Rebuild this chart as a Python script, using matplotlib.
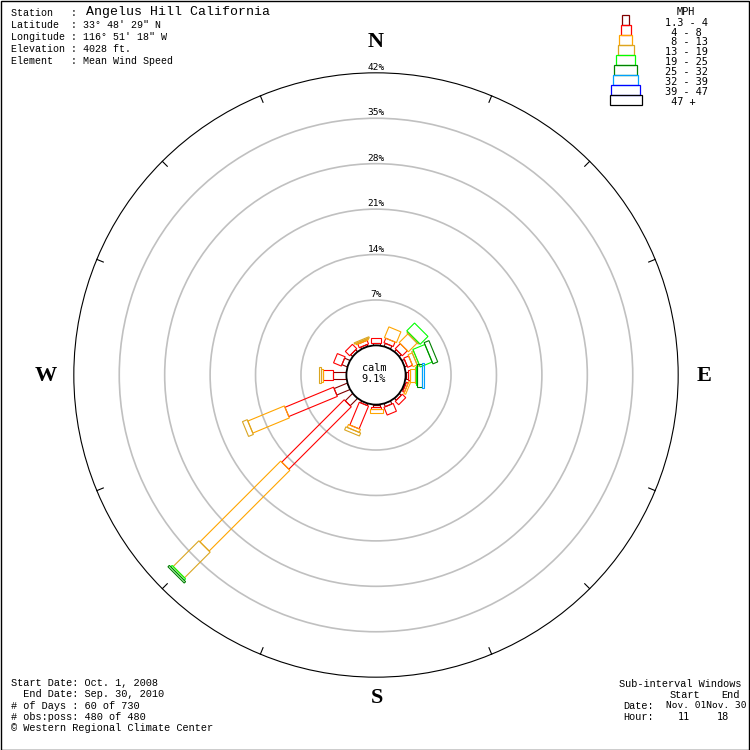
import numpy as np
import matplotlib.pyplot as plt
from matplotlib.patches import Polygon, Rectangle, Circle

plt.rcParams["font.family"] = ["Liberation Mono", "DejaVu Sans Mono"]

# 画布与比例 (像素)
W_PX, H_PX = 750, 750
CX, CY = 376, 375          # 风玫瑰中心
PX_PER_PCT = 6.49          # 每 1% 对应像素
CALM_R = 29.6 / PX_PER_PCT  # 静风圆半径 (以 % 为单位)

# 数据
directions = np.arange(16) * 22.5
ring_pcts = [7, 14, 21, 28, 35, 42]
calm_pct = 9.1

speed_labels = ["1.3 - 4", " 4 - 8", " 8 - 13", "13 - 19", "19 - 25",
                "25 - 32", "32 - 39", "39 - 47", " 47 +"]
speed_colors = ["#800000", "#FF0000", "#FFA500", "#DAA520", "#00FF00",
                "#008000", "#00A0FF", "#0000FF", "#000000"]
box_width_px = [7, 10, 13, 16, 19, 23, 25, 29, 32]

# 各风速段在16个方位上的频率 (%), 方位顺序 N, NNE, NE ... NNW
f_1_4 = [0.35, 0.5, 0.4, 0.4, 0.3, 0.2, 0.4, 0.5, 0.3, 0.3, 1.6, 2.2, 2.1, 0.9, 0.4, 0.3]
f_4_8 = [0.75, 0.75, 1.1, 0.8, 0.38, 0.3, 0.75, 1.3, 0.42, 3.8, 13.6, 8.1, 1.55, 1.3, 0.95, 0.6]
f_8_13 = [0, 1.8, 1.9, 0.7, 0.77, 0.3, 0, 0, 0.62, 0.5, 17.6, 6.1, 0.2, 0, 0, 0.2]
f_13_19 = [0, 0, 0.2, 0.3, 0.15, 0, 0, 0, 0, 0.5, 5.6, 0.8, 0.35, 0, 0, 0.2]
f_19_25 = [0, 0, 1.7, 2.0, 0.16, 0, 0, 0, 0, 0, 0.3, 0, 0, 0, 0, 0]
f_25_32 = [0, 0, 0, 0.8, 0.77, 0, 0, 0, 0, 0, 0.3, 0, 0, 0, 0, 0]
f_32_39 = [0, 0, 0, 0, 0.32, 0, 0, 0, 0, 0, 0, 0, 0, 0, 0, 0]
f_39_47 = [0] * 16
f_47_up = [0] * 16
freqs = [f_1_4, f_4_8, f_8_13, f_13_19, f_19_25, f_25_32, f_32_39, f_39_47, f_47_up]

header_lines = ["Station   :",
                "Latitude  : 33\u00b0 48' 29\" N",
                "Longitude : 116\u00b0 51' 18\" W",
                "Elevation : 4028 ft.",
                "Element   : Mean Wind Speed"]
station_name = "Angelus Hill California"
footer_lines = ["Start Date: Oct. 1, 2008",
                "  End Date: Sep. 30, 2010",
                "# of Days : 60 of 730",
                "# obs:poss: 480 of 480",
                "\u00a9 Western Regional Climate Center"]


def fxy(x, y):
    """像素坐标(左上原点) -> figure 坐标"""
    return x / W_PX, 1 - y / H_PX


fig = plt.figure(figsize=(7.5, 7.5), dpi=100)
ax = fig.add_axes([0, 0, 1, 1])
ax.set_xlim(-CX / PX_PER_PCT, (W_PX - CX) / PX_PER_PCT)
ax.set_ylim(-(H_PX - CY) / PX_PER_PCT, CY / PX_PER_PCT)
ax.set_aspect("equal")
ax.axis("off")

# 同心圆
for p in ring_pcts:
    r = CALM_R + p
    if p == ring_pcts[-1]:
        ax.add_patch(Circle((0, 0), r, fill=False, edgecolor="black", lw=0.8))
    else:
        ax.add_patch(Circle((0, 0), r, fill=False, edgecolor="#C0C0C0", lw=1.2))
    ax.text(0, r + 0.15, f"{p}%", ha="center", va="bottom", fontsize=6.8,
            family="DejaVu Sans Mono")

# 外圈刻度
r_out = CALM_R + ring_pcts[-1]
for d in directions:
    if d % 90 == 0:
        continue
    t = np.radians(d)
    r_in = r_out - 7 / PX_PER_PCT
    ax.plot([r_in * np.sin(t), r_out * np.sin(t)], [r_in * np.cos(t), r_out * np.cos(t)],
            color="black", lw=0.8)

# 风玫瑰条
for j, d in enumerate(directions):
    t = np.radians(d)
    u = np.array([np.sin(t), np.cos(t)])
    perp = np.array([np.cos(t), -np.sin(t)])
    cum = 0.0
    for i, f in enumerate(freqs):
        v = f[j]
        if v <= 0:
            continue
        r0 = CALM_R + cum
        r1 = r0 + v
        hw = box_width_px[i] / 2 / PX_PER_PCT
        pts = [r0 * u - hw * perp, r1 * u - hw * perp, r1 * u + hw * perp, r0 * u + hw * perp]
        ax.add_patch(Polygon(pts, closed=True, fill=False, edgecolor=speed_colors[i],
                             lw=0.8, zorder=3))
        cum += v

# 静风圆
ax.add_patch(Circle((0, 0), CALM_R, facecolor="white", edgecolor="black", lw=1.3, zorder=4))
fig.text(*fxy(374, 368), "calm", ha="center", va="center", fontsize=7.4,
         family="DejaVu Sans Mono", zorder=5)
fig.text(*fxy(374, 379.5), f"{calm_pct}%", ha="center", va="center", fontsize=7.4,
         family="DejaVu Sans Mono", zorder=5)

# 方位字母
for s, x, y in [("N", 376, 42), ("E", 704, 376), ("S", 377, 698), ("W", 46, 376)]:
    fig.text(*fxy(x, y), s, ha="center", va="center", fontsize=16,
             family="Liberation Serif", fontweight="bold")

# 左上站点信息
for k, line in enumerate(header_lines):
    fig.text(*fxy(11, 13 + 12.1 * k), line, ha="left", va="center", fontsize=7.2)
fig.text(*fxy(86, 12.5), station_name, ha="left", va="center", fontsize=9.5)

# 左下
for k, line in enumerate(footer_lines):
    fig.text(*fxy(11, 683 + 11.3 * k), line, ha="left", va="center", fontsize=7.4)

# 右下
fig.text(*fxy(619, 684), "Sub-interval Windows", ha="left", va="center", fontsize=7.4)
fig.text(*fxy(670, 695), "Start", ha="left", va="center", fontsize=7.4)
fig.text(*fxy(721, 695), "End", ha="left", va="center", fontsize=7.4)
fig.text(*fxy(623, 706), "Date:", ha="left", va="center", fontsize=7.4)
fig.text(*fxy(666, 706), "Nov. 01Nov. 30", ha="left", va="center", fontsize=6.8,
         family="DejaVu Sans Mono")
fig.text(*fxy(623, 717), "Hour:", ha="left", va="center", fontsize=7.4)
fig.text(*fxy(678, 717), "11", ha="left", va="center", fontsize=7.4, family="DejaVu Sans Mono")
fig.text(*fxy(717, 717), "18", ha="left", va="center", fontsize=7.4, family="DejaVu Sans Mono")

# 图例
fig.text(*fxy(686, 12), "MPH", ha="center", va="center", fontsize=7.4, family="DejaVu Sans Mono")
for i, lab in enumerate(speed_labels):
    w = box_width_px[i]
    x0, y0 = fxy(625.5 - w / 2, 25 + 10 * i)
    fig.patches.append(Rectangle((x0, y0), w / W_PX, 10 / H_PX, transform=fig.transFigure,
                                 fill=False, edgecolor=speed_colors[i], lw=0.9))
    fig.text(*fxy(665, 22.7 + 9.875 * i), lab, ha="left", va="center", fontsize=7.4,
             family="DejaVu Sans Mono")

# 外边框
fig.patches.append(Rectangle((0.5 / W_PX, 0.5 / H_PX), 748.5 / W_PX, 748.5 / H_PX,
                             transform=fig.transFigure, fill=False, edgecolor="black", lw=1.0))

fig.savefig("out.png", dpi=100, facecolor="white")
